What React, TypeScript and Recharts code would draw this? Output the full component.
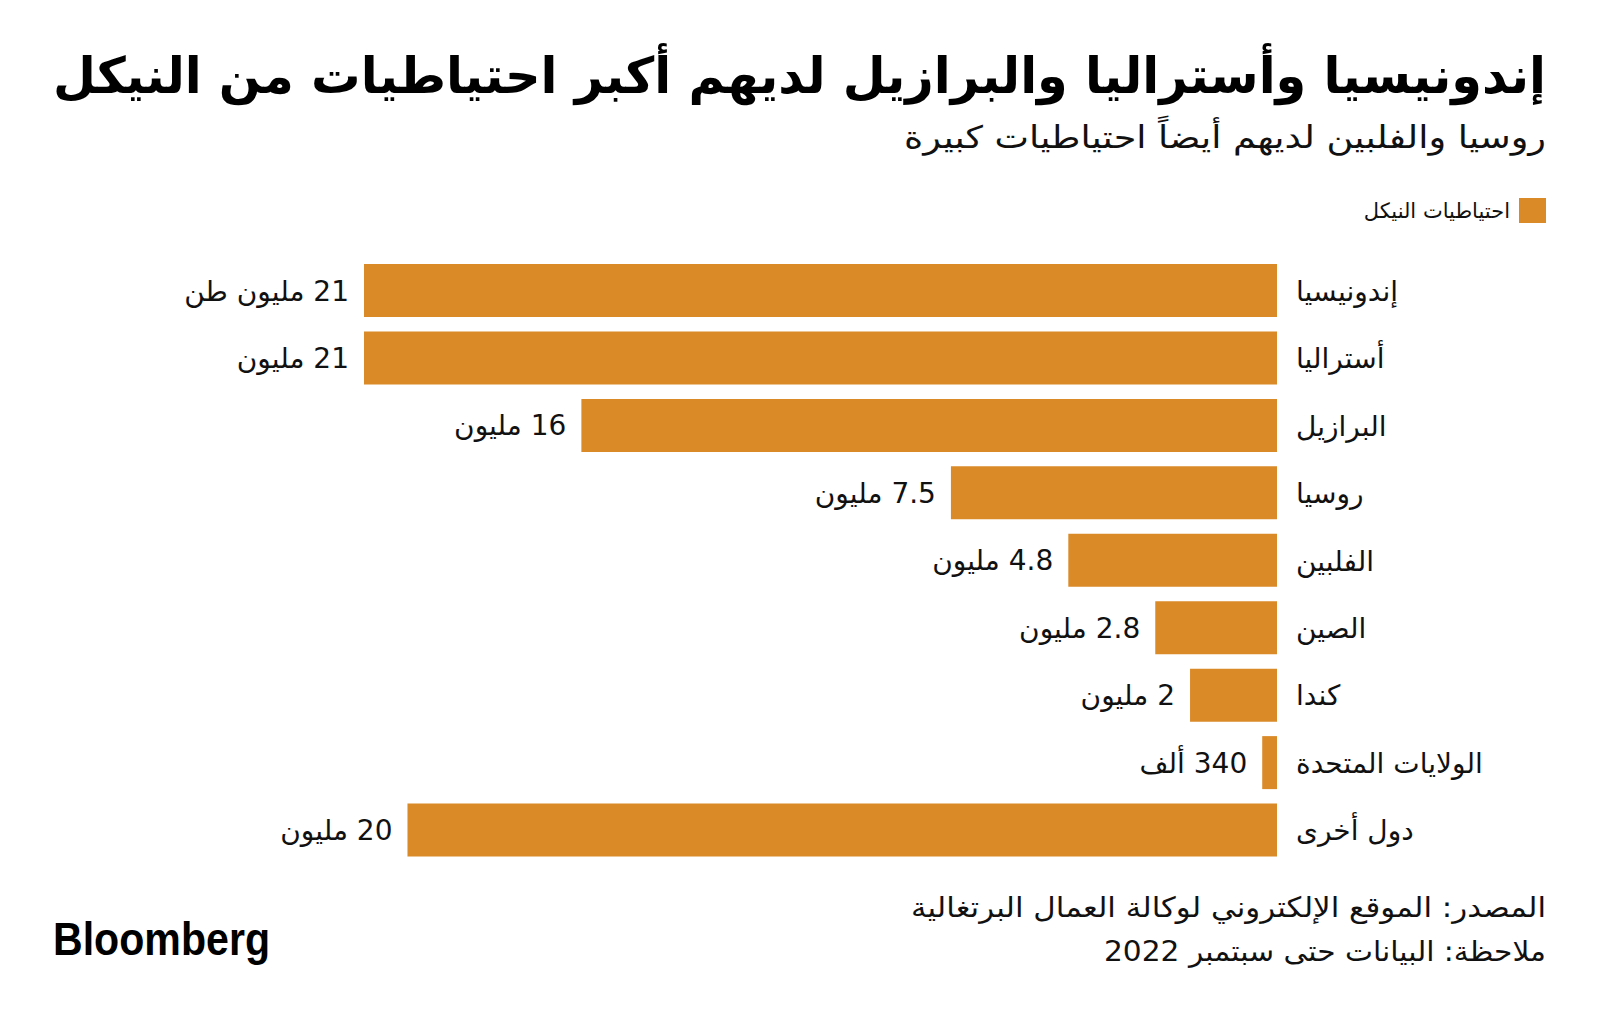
import { BarChart, Bar, XAxis, YAxis, LabelList, Legend } from 'recharts'

// Nickel reserves by country (million tonnes)
const countries = ['إندونيسيا', 'أستراليا', 'البرازيل', 'روسيا', 'الفلبين', 'الصين', 'كندا', 'الولايات المتحدة', 'دول أخرى']
const reserves = [21, 21, 16, 7.5, 4.8, 2.8, 2, 0.34, 20]
const valueLabels = ['21 مليون طن', '21 مليون', '16 مليون', '7.5 مليون', '4.8 مليون', '2.8 مليون', '2 مليون', '340 ألف', '20 مليون']

const seriesName = 'احتياطيات النيكل'
const title = 'إندونيسيا وأستراليا والبرازيل لديهم أكبر احتياطيات من النيكل'
const subtitle = 'روسيا والفلبين لديهم أيضاً احتياطيات كبيرة'
const sourceNote = 'المصدر: الموقع الإلكتروني لوكالة العمال البرتغالية'
const dateNote = 'ملاحظة: البيانات حتى سبتمبر 2022'

const ORANGE = '#DA8A27'
const ARABIC = '"DejaVu Sans", sans-serif'

const data = countries.map((c, i) => ({ country: c, value: reserves[i], label: valueLabels[i] }))

const CountryTick = (props: any) => {
  const { x, y, payload } = props
  return (
    <text x={x} y={y} dy={10} textAnchor="start" fontFamily={ARABIC} fontSize={28} fill="#111">
      {payload.value}
    </text>
  )
}

const ValueLabel = (props: any) => {
  const { x, y, width, height, value } = props
  const left = Math.min(x, x + width)
  return (
    <text x={left - 15} y={y + height / 2} dy={10} direction="rtl" textAnchor="start" fontFamily={ARABIC} fontSize={28} fill="#111">
      {value}
    </text>
  )
}

const LegendBox = () => (
  <div style={{ display: 'flex', justifyContent: 'flex-start', alignItems: 'center', direction: 'rtl', fontFamily: ARABIC, fontSize: 21, color: '#111' }}>
    <span style={{ width: 27, height: 25, background: ORANGE, marginLeft: 9, display: 'inline-block' }} />
    <span>{seriesName}</span>
  </div>
)

export default function App() {
  return (
    <div style={{ position: 'absolute', left: 0, top: 0, width: 1600, height: 1019, background: '#fff' }}>
      <svg width={1600} height={1019} style={{ position: 'absolute', left: 0, top: 0 }}>
        <text x={1546} y={93} direction="rtl" textAnchor="start" fontFamily={ARABIC} fontWeight="bold" fontSize={50} fill="#000" textLength={1493} lengthAdjust="spacingAndGlyphs">
          {title}
        </text>
        <text x={1546} y={148} direction="rtl" textAnchor="start" fontFamily={ARABIC} fontSize={31} fill="#111" textLength={642} lengthAdjust="spacingAndGlyphs">
          {subtitle}
        </text>
        <text x={1546} y={917} direction="rtl" textAnchor="start" fontFamily={ARABIC} fontSize={28} fill="#111" textLength={635} lengthAdjust="spacingAndGlyphs">
          {sourceNote}
        </text>
        <text x={1546} y={961} direction="rtl" textAnchor="start" fontFamily={ARABIC} fontSize={28} fill="#111" textLength={442} lengthAdjust="spacingAndGlyphs">
          {dateNote}
        </text>
        <text x={53} y={955} fontFamily='"Liberation Sans", Arial, sans-serif' fontWeight="bold" fontSize={46} fill="#000" textLength={217} lengthAdjust="spacingAndGlyphs">
          Bloomberg
        </text>
      </svg>
      <div style={{ position: 'absolute', left: 0, top: 0 }}>
        <BarChart
          width={1600}
          height={1019}
          data={data}
          layout="vertical"
          margin={{ top: 257, right: 43, bottom: 130, left: 364 }}
          barSize={53}
        >
          <XAxis type="number" domain={[0, 21]} reversed hide />
          <YAxis
            type="category"
            dataKey="country"
            orientation="right"
            width={280}
            axisLine={false}
            tickLine={false}
            tickSize={0}
            tickMargin={19}
            tick={<CountryTick />}
            interval={0}
          />
          <Legend
            content={<LegendBox />}
            wrapperStyle={{ position: 'absolute', top: 198, left: 1246, width: 300, height: 25 }}
          />
          <Bar dataKey="value" name={seriesName} fill={ORANGE} isAnimationActive={false}>
            <LabelList dataKey="label" content={<ValueLabel />} />
          </Bar>
        </BarChart>
      </div>
    </div>
  )
}
